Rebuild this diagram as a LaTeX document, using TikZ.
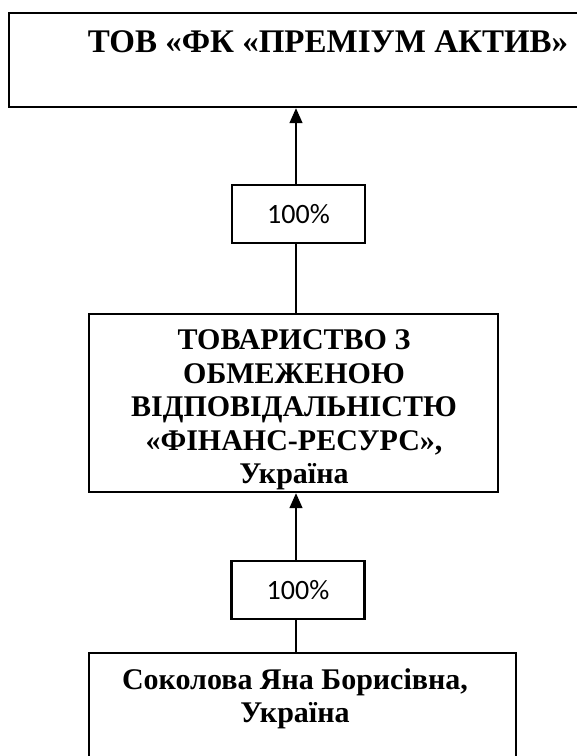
\documentclass[tikz,border=0pt]{standalone}
\usepackage{fontspec}
\setmainfont{Liberation Serif}
\newfontfamily\calibri{Carlito}
\usetikzlibrary{arrows.meta}
\tikzset{
  box/.style={draw=black, line width=2.2pt, rectangle, anchor=north west, inner sep=0pt},
  pct/.style={draw=black, line width=2.2pt, rectangle, minimum width=133pt, minimum height=58pt, inner sep=0pt, font=\calibri\fontsize{28}{32}\selectfont},
  bigtxt/.style={font=\bfseries\fontsize{33}{36}\selectfont, align=center, inner sep=0pt},
  txt/.style={font=\bfseries\fontsize{30}{33.5}\selectfont, align=center, inner sep=0pt},
  conn/.style={draw=black, line width=1.4pt},
  arr/.style={conn, -{Triangle[width=13pt,length=15pt]}}
}
\begin{document}
\begin{tikzpicture}[x=1pt,y=-1pt]
\clip (0,0) rectangle (577,756);
\fill[white] (0,0) rectangle (577,756);
% boxes
\node[box, minimum width=600pt, minimum height=94pt] (top) at (8,12) {};
\node[bigtxt] (toptxt) at (328,42) {ТОВ «ФК «ПРЕМІУМ АКТИВ»};
\node[box, minimum width=409pt, minimum height=178pt] (mid) at (88,313) {};
\node[txt] (midtxt) at (294,410) {ТОВАРИСТВО З\\ОБМЕЖЕНОЮ\\ВІДПОВІДАЛЬНІСТЮ\\«ФІНАНС-РЕСУРС»,\\Україна};
\node[box, minimum width=427pt, minimum height=140pt] (bot) at (88,652) {};
\node[txt] (bottxt) at (295,699) {Соколова Яна Борисівна,\\Україна};
\node[pct] (p1) at (298.5,214) {100\%};
\node[pct] (p2) at (298,590) {100\%};
% connectors
\coordinate (ax) at (296,0);
\draw[arr] (ax |- p1.north) -- (ax |- top.south);
\draw[conn] (ax |- mid.north) -- (ax |- p1.south);
\draw[arr] (ax |- p2.north) -- (ax |- mid.south);
\draw[conn] (ax |- bot.north) -- (ax |- p2.south);
\end{tikzpicture}
\end{document}
